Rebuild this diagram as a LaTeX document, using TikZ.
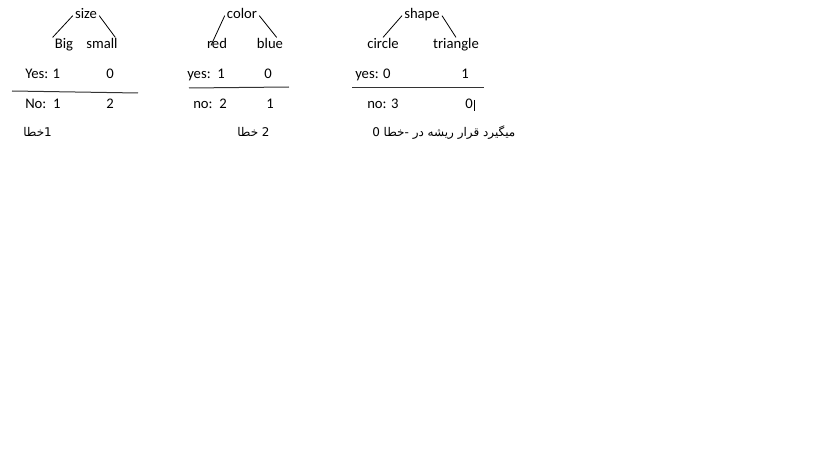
\documentclass[tikz,border=0pt]{standalone}
\usepackage{fontspec}
\setmainfont{Carlito}
\newfontfamily\arabicfont[Script=Arabic]{DejaVu Sans}
\TeXXeTstate=1
\newcommand\rw[1]{\beginR #1\endR}
\tikzstyle{word} = [font=\fontsize{11pt}{13pt}\selectfont, inner sep=1.5pt, text height=7pt, text depth=2pt, anchor=base]
\tikzstyle{row} = [word, anchor=base west]
\tikzstyle{note} = [row, font=\arabicfont\fontsize{9pt}{11pt}\selectfont]
\tikzstyle{branch} = [draw, line width=0.6pt]

\begin{document}
\begin{tikzpicture}[x=0.75pt, y=-0.75pt]
        \useasboundingbox (0,0) rectangle (819,460);
        % Place nodes
        \node [word] (size) at (86,19) {size};
        \node [word] (big) at (64,49) {Big};
        \node [word] (small) at (102,49) {small};
        \node [row] (yes1) at (23,79) {Yes: 1};
        \node [word] (yes1b) at (110,79) {0};
        \node [row] (no1) at (23,108.5) {No:\ \ 1};
        \node [word] (no1b) at (110,108.5) {2};
        \node [note] (err1) at (21,137) {\rw{خطا}1};

        \node [word] (color) at (242,19) {color};
        \node [word] (red) at (217,49) {red};
        \node [word] (blue) at (270,49) {blue};
        \node [row] (yes2) at (185,79) {yes:\ \ 1};
        \node [word] (yes2b) at (268,79) {0};
        \node [row] (no2) at (191,108.5) {no:\ \ 2};
        \node [word] (no2b) at (270,108.5) {1};
        \node [note] (err2) at (235,137) {\rw{خطا}\ 2};

        \node [word] (shape) at (422,19) {shape};
        \node [word] (circle) at (383,49) {circle};
        \node [word] (triangle) at (456,49) {triangle};
        \node [row] (yes3) at (353,79) {yes: 0};
        \node [word] (yes3b) at (465,79) {1};
        \node [row] (no3) at (365,108.5) {no: 3};
        \node [word] (no3b) at (469,108.5) {0};
        \node [note] (err3) at (370,137) {0 \rw{خطا}- \rw{در} \rw{ریشه} \rw{قرار} \rw{میگیرد}};
        % Draw edges
        \path [branch] (size.west) -- (big.north west);
        \path [branch] (size.east) -- ([xshift=10]small.north);
        \path [branch] (color.west) -- ([shift={(-6,8)}]red.north);
        \path [branch] (color.east) -- ([xshift=5]blue.north);
        \path [branch] (shape.west) -- (circle.north);
        \path [branch] (shape.east) -- (triangle.north);
        \draw [line width=0.75pt, black!80] (12,91) -- (138,93);
        \draw [line width=0.75pt, black!80] (189,88) -- (289,87);
        \draw [line width=0.75pt, black!80] (352,88) -- (484,88);
        \draw [line width=0.75pt] (no3b.east |- 0,100) -- (no3b.east |- 0,111);
\end{tikzpicture}
\end{document}
